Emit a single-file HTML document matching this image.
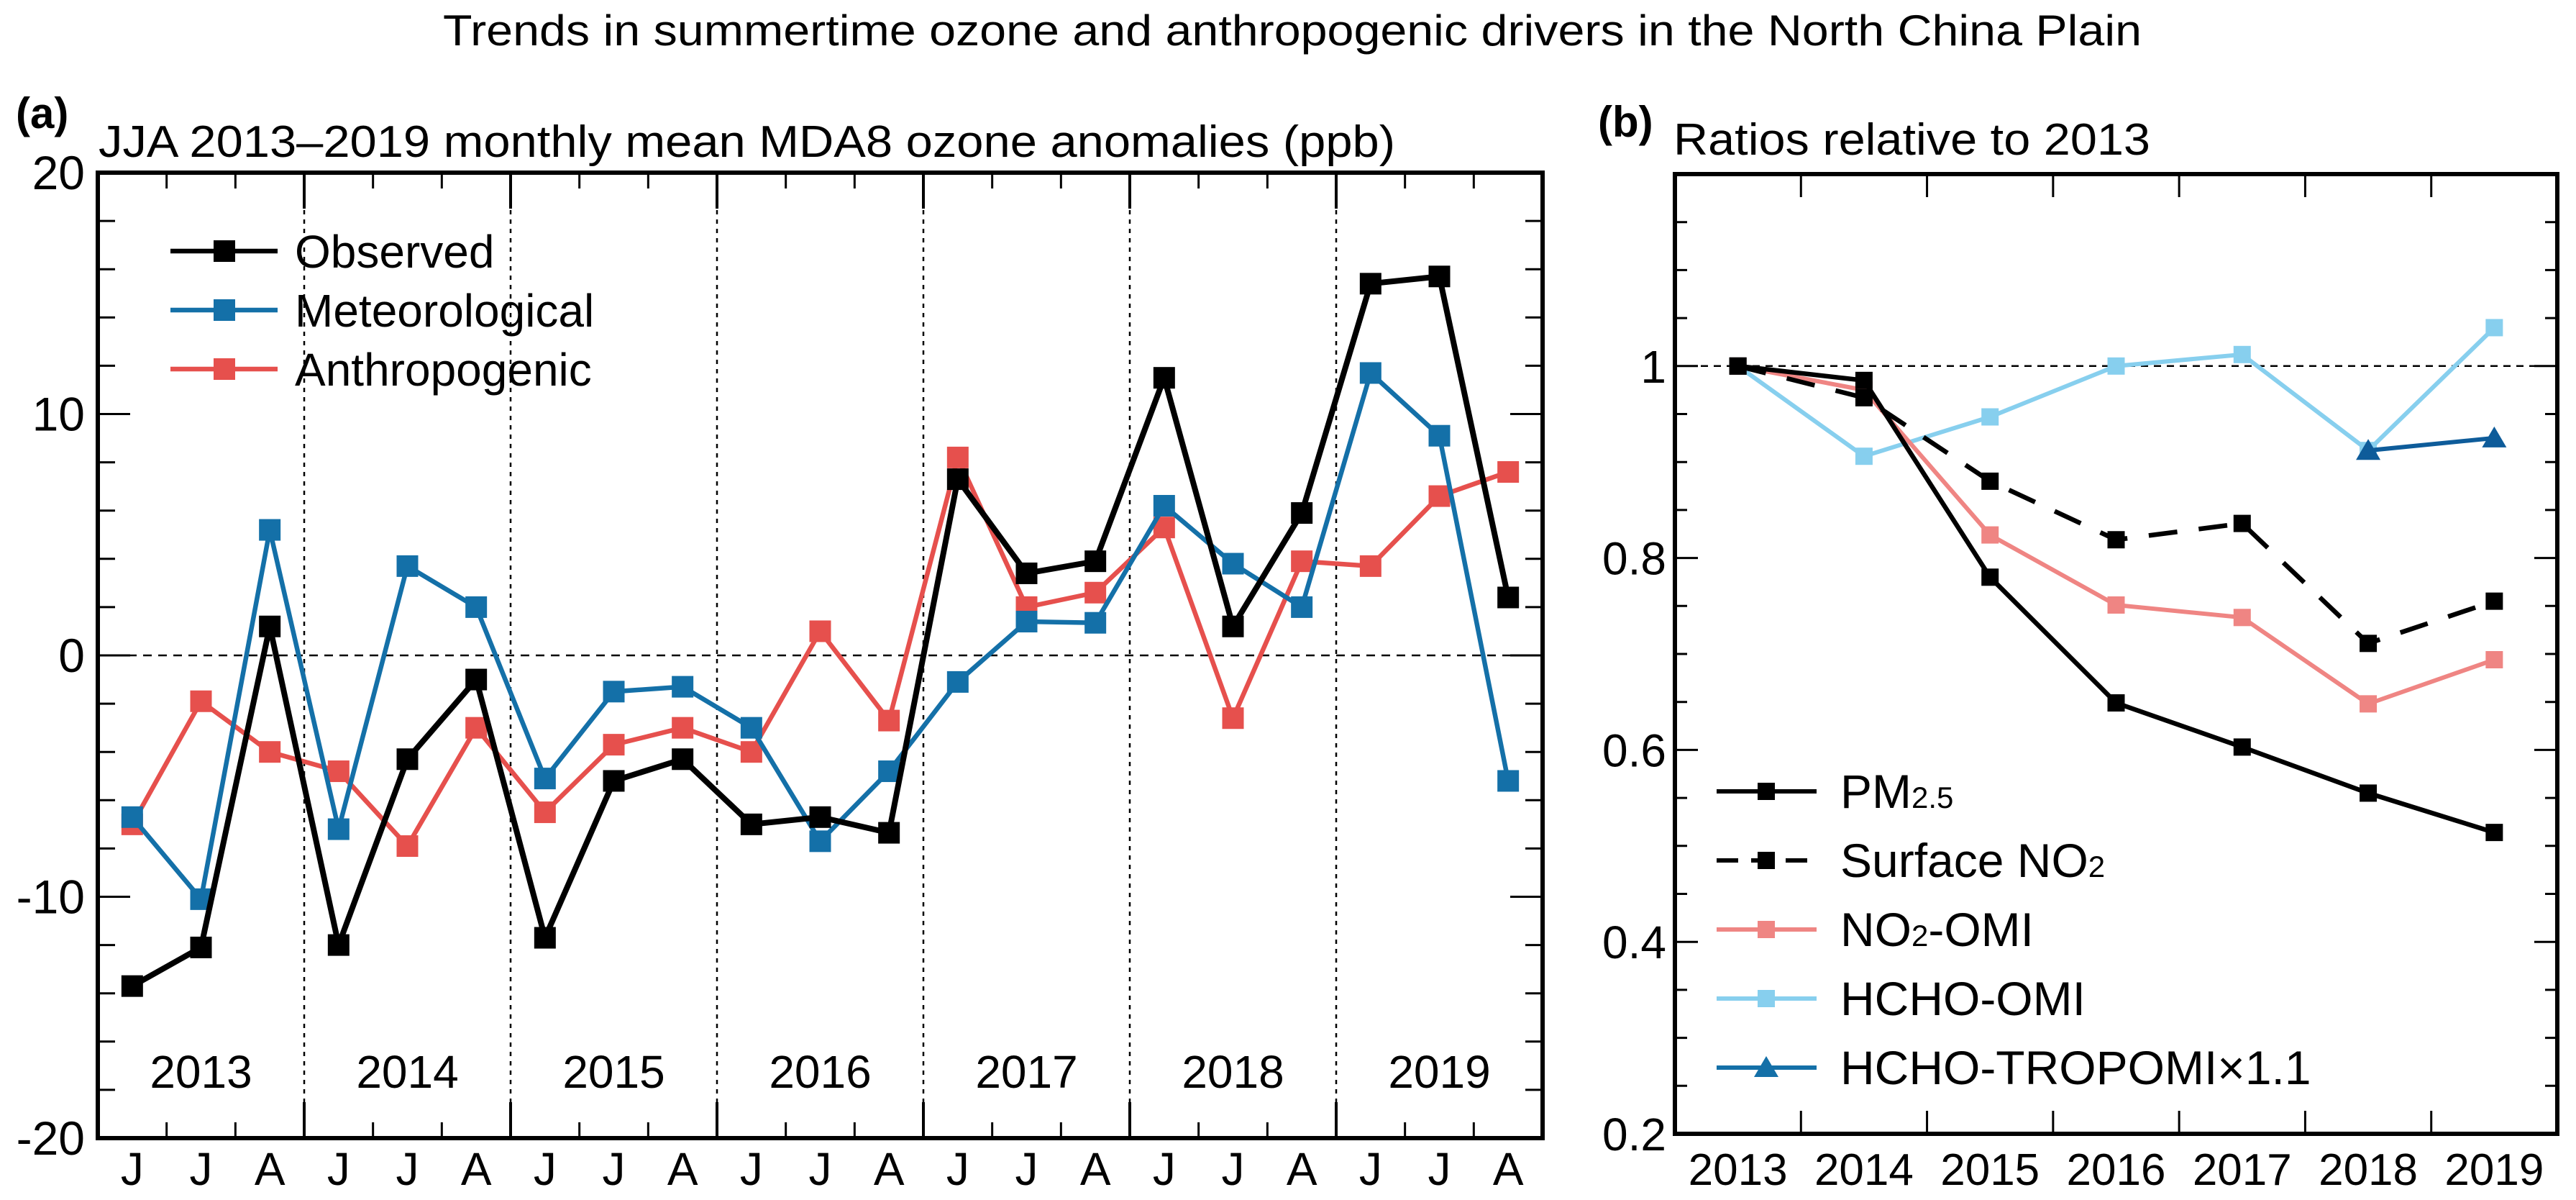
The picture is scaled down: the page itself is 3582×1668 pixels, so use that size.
<!DOCTYPE html>
<html><head><meta charset="utf-8"><style>
html,body{margin:0;padding:0;background:#fff;}
svg{display:block;font-family:"Liberation Sans",Arial,sans-serif;}
</style></head><body>
<svg id="fig" width="3582" height="1668" viewBox="0 0 3582 1668" xmlns="http://www.w3.org/2000/svg">
<text x="1797" y="63" font-size="60" text-anchor="middle" textLength="2362" lengthAdjust="spacingAndGlyphs">Trends in summertime ozone and anthropogenic drivers in the North China Plain</text>
<text x="22" y="178" font-size="60" font-weight="bold">(a)</text>
<text x="137" y="218" font-size="62" textLength="1803" lengthAdjust="spacingAndGlyphs">JJA 2013–2019 monthly mean MDA8 ozone anomalies (ppb)</text>
<text x="2222" y="190" font-size="60" font-weight="bold">(b)</text>
<text x="2327" y="215" font-size="62" textLength="663" lengthAdjust="spacingAndGlyphs">Ratios relative to 2013</text>
<g id="pa"></g>
<g id="pb"></g>
</svg>
<script>
// Panel (a) data
const months = ["J","J","A"];
const years = ["2013","2014","2015","2016","2017","2018","2019"];
const observed = [-13.7,-12.1,1.2,-12.0,-4.3,-1.0,-11.7,-5.2,-4.3,-7.0,-6.7,-7.35,7.3,3.4,3.9,11.5,1.2,5.9,15.4,15.7,2.4];
const meteorological = [-6.7,-10.1,5.2,-7.2,3.7,2.0,-5.1,-1.5,-1.3,-3.0,-7.7,-4.8,-1.1,1.4,1.35,6.2,3.8,2.0,11.7,9.1,-5.2];
const anthropogenic = [-7.0,-1.9,-4.0,-4.8,-7.9,-3.0,-6.5,-3.7,-3.0,-4.0,1.0,-2.7,8.2,2.0,2.6,5.3,-2.6,3.9,3.7,6.6,7.6];
const aTicks = [-20,-10,0,10,20];
// Panel (b) data
const bYears = ["2013","2014","2015","2016","2017","2018","2019"];
const pm25 = [1.0,0.985,0.780,0.649,0.603,0.555,0.514];
const surfNO2 = [1.0,0.967,0.880,0.819,0.836,0.711,0.755];
const no2OMI = [1.0,0.975,0.824,0.751,0.738,0.648,0.694];
const hchoOMI = [1.0,0.906,0.947,1.0,1.012,0.912,1.04];
const tropomi = [null,null,null,null,null,0.912,0.925];
const bTicks = [0.2,0.4,0.6,0.8,1];

const NS="http://www.w3.org/2000/svg";
function mk(parent,tag,attrs,text){const e=document.createElementNS(NS,tag);for(const k in attrs)e.setAttribute(k,attrs[k]);if(text!==undefined)e.textContent=text;parent.appendChild(e);return e;}

// ---------- Panel A ----------
const pa=document.getElementById('pa');
const aL=136,aR=2145,aT=240,aB=1582;
const nM=21, slot=(aR-aL)/nM;
const ax=i=>aL+(i+0.5)*slot;
const ay=v=>aT+(20-v)/40*(aB-aT);
let z=mk(pa,'line',{x1:aL,x2:aR,y1:ay(0),y2:ay(0),stroke:'#000','stroke-width':2.5,'stroke-dasharray':'12 9'});


for(let k=1;k<7;k++){const x=aL+k*3*slot;
 let l=mk(pa,'line',{x1:x,x2:x,y1:aT,y2:aB,stroke:'#000','stroke-width':2.5,'stroke-dasharray':'6 7'});
 
 
 mk(pa,'line',{x1:x,x2:x,y1:aB,y2:aB-50,stroke:'#000','stroke-width':4});
 mk(pa,'line',{x1:x,x2:x,y1:aT,y2:aT+50,stroke:'#000','stroke-width':4});
}
for(let i=1;i<nM;i++){ if(i%3===0)continue; const x=aL+i*slot;
 mk(pa,'line',{x1:x,x2:x,y1:aB,y2:aB-22,stroke:'#000','stroke-width':3});
 mk(pa,'line',{x1:x,x2:x,y1:aT,y2:aT+22,stroke:'#000','stroke-width':3});
}
for(let v=-20;v<=20;v+=2){const y=ay(v);const major=v%10===0;const len=major?45:24;
 mk(pa,'line',{x1:aL,x2:aL+len,y1:y,y2:y,stroke:'#000','stroke-width':3});
 mk(pa,'line',{x1:aR,x2:aR-len,y1:y,y2:y,stroke:'#000','stroke-width':3});
}
aTicks.forEach(v=>{let t=mk(pa,'text',{x:aL-18,y:ay(v)+23,'font-size':66,'text-anchor':'end'},String(v));
 
 });
for(let i=0;i<nM;i++){let t=mk(pa,'text',{x:ax(i),y:1647,'font-size':64,'text-anchor':'middle'},months[i%3]);
 
 }
years.forEach((yr,k)=>{let t=mk(pa,'text',{x:aL+(k*3+1.5)*slot,y:1512,'font-size':64,'text-anchor':'middle'},yr);
 
 });
let fa=mk(pa,'rect',{x:aL,y:aT,width:aR-aL,height:aB-aT,fill:'none',stroke:'#000','stroke-width':6});


function seriesA(vals,color,w,name){
 const g=mk(pa,'g',{});
 
 
 mk(g,'polyline',{points:vals.map((v,i)=>ax(i)+','+ay(v)).join(' '),fill:'none',stroke:color,'stroke-width':w,'stroke-linejoin':'miter'});
 vals.forEach((v,i)=>{let r=mk(g,'rect',{x:ax(i)-15,y:ay(v)-15,width:30,height:30,fill:color});
  
  });
}
seriesA(anthropogenic,'#e6504d',6.5,'anthropogenic-series');
seriesA(meteorological,'#1470a8',6.5,'meteorological-series');
seriesA(observed,'#000',8,'observed-series');
const legA=[['Observed','#000'],['Meteorological','#1470a8'],['Anthropogenic','#e6504d']];
legA.forEach((d,i)=>{const y=349+i*82;const g=mk(pa,'g',{});
 
 
 mk(g,'line',{x1:237,x2:386,y1:y,y2:y,stroke:d[1],'stroke-width':6.5});
 mk(g,'rect',{x:297,y:y-15,width:30,height:30,fill:d[1]});
 mk(g,'text',{x:410,y:y+23,'font-size':64},d[0]);
});

// ---------- Panel B ----------
const pb=document.getElementById('pb');
const bL=2329,bR=3556,bT=242,bB=1576;
const bslot=(bR-bL)/7;
const bx=i=>bL+(i+0.5)*bslot;
const by=v=>bT+(1.2-v)/1.0*(bB-bT);
let one=mk(pb,'line',{x1:bL,x2:bR,y1:by(1),y2:by(1),stroke:'#000','stroke-width':2.5,'stroke-dasharray':'10 8'});


for(let k=1;k<7;k++){const x=bL+k*bslot;
 mk(pb,'line',{x1:x,x2:x,y1:bB,y2:bB-32,stroke:'#000','stroke-width':3});
 mk(pb,'line',{x1:x,x2:x,y1:bT,y2:bT+32,stroke:'#000','stroke-width':3});}
for(let j=0;j<=20;j++){const v=0.2+j*0.05;const y=by(v);const major=j%4===0;const len=major?32:17;
 mk(pb,'line',{x1:bL,x2:bL+len,y1:y,y2:y,stroke:'#000','stroke-width':3});
 mk(pb,'line',{x1:bR,x2:bR-len,y1:y,y2:y,stroke:'#000','stroke-width':3});}
bTicks.forEach(v=>{let t=mk(pb,'text',{x:bL-12,y:by(v)+23,'font-size':64,'text-anchor':'end'},String(v));
 
 });
bYears.forEach((yr,i)=>{let t=mk(pb,'text',{x:bx(i),y:1647,'font-size':62,'text-anchor':'middle'},yr);
 
 });
let fb=mk(pb,'rect',{x:bL,y:bT,width:bR-bL,height:bB-bT,fill:'none',stroke:'#000','stroke-width':6});


function seriesB(vals,color,w,name,dash,tri){
 const g=mk(pb,'g',{});
 
 
 const pts=[];vals.forEach((v,i)=>{if(v!==null)pts.push([bx(i),by(v)]);});
 const at={points:pts.map(p=>p.join(',')).join(' '),fill:'none',stroke:color,'stroke-width':w};
 if(dash)at['stroke-dasharray']=dash;
 mk(g,'polyline',at);
 pts.forEach(p=>{let m;
  if(tri) m=mk(g,'polygon',{points:`${p[0]},${p[1]-16} ${p[0]-17},${p[1]+13} ${p[0]+17},${p[1]+13}`,fill:color});
  else m=mk(g,'rect',{x:p[0]-12,y:p[1]-12,width:24,height:24,fill:color});
  
  });
}
seriesB(hchoOMI,'#87cfee',6,'hcho-omi-series');
seriesB(tropomi,'#0e5c9a',6,'hcho-tropomi-series',null,true);
seriesB(no2OMI,'#ef8583',6,'no2-omi-series');
seriesB(surfNO2,'#000',6.5,'surface-no2-series','40 30');
seriesB(pm25,'#000',6.5,'pm25-series');
const legB=[['PM','#000',null,false,'2.5'],['Surface NO','#000','30 18',false,'2'],['NO','#ef8583',null,false,'2','-OMI'],['HCHO-OMI','#87cfee',null,false],['HCHO-TROPOMI×1.1','#1470a8',null,true]];
legB.forEach((d,i)=>{const y=1100+i*96;const g=mk(pb,'g',{});
 
 
 const la={x1:2387,x2:2526,y1:y,y2:y,stroke:d[1],'stroke-width':6};if(d[2])la['stroke-dasharray']=d[2];
 mk(g,'line',la);
 if(d[3]) mk(g,'polygon',{points:`2456,${y-16} 2439,${y+13} 2473,${y+13}`,fill:d[1]});
 else mk(g,'rect',{x:2444,y:y-12,width:24,height:24,fill:d[1]});
 const t=mk(g,'text',{x:2559,y:y+23,'font-size':66},d[0]);
 if(d[4]){mk(t,'tspan',{'font-size':42},d[4]);}
 if(d[5]){mk(t,'tspan',{},d[5]);}
});
</script>
</body></html>
